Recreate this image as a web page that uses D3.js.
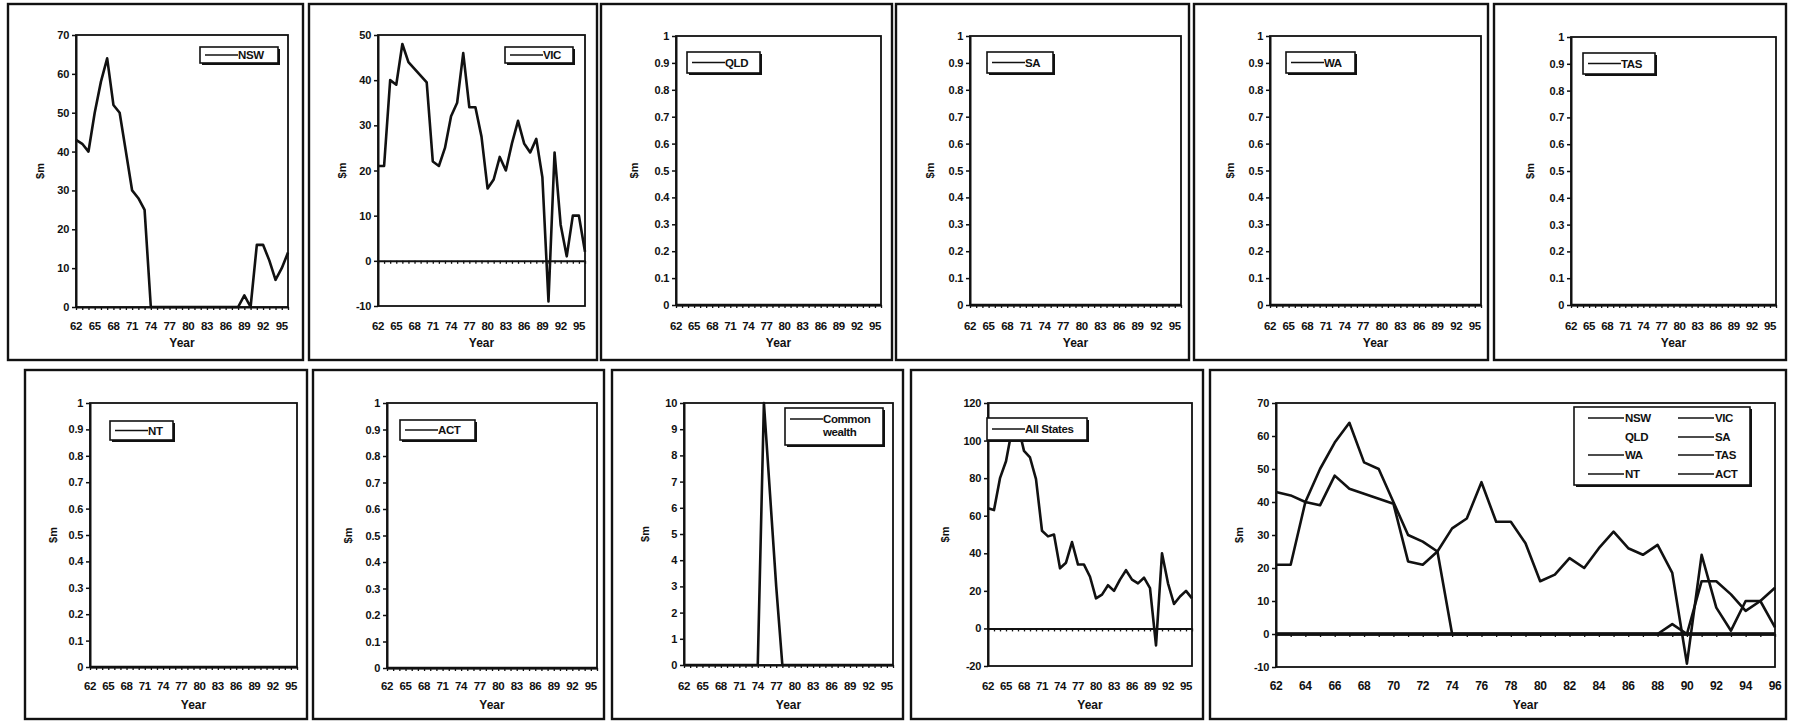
<!DOCTYPE html>
<html><head><meta charset="utf-8">
<script src="https://cdn.jsdelivr.net/npm/d3@7"></script>
<style>
body{margin:0;background:#fff;}
text{font-family:"Liberation Sans",Arial,sans-serif;font-weight:bold;fill:#111;}
</style></head><body>
<svg id="c" width="1807" height="722"></svg>
<script>
// ---------------- DATA ----------------
const years = ["62","63","64","65","66","67","68","69","70","71","72","73","74","75","76","77","78","79","80","81","82","83","84","85","86","87","88","89","90","91","92","93","94","95","96"];
const smallXLabels = ["62","65","68","71","74","77","80","83","86","89","92","95"];
const wideXLabels = ["62","64","66","68","70","72","74","76","78","80","82","84","86","88","90","92","94","96"];

const nsw = [43,42,40,50,58,64,52,50,40,30,28,25,0,0,0,0,0,0,0,0,0,0,0,0,0,0,0,3,0,16,16,12,7,10,14];
const vic = [21,21,40,39,48,44,42.5,41,39.5,22,21,25,32,35,46,34,34,27.5,16,18,23,20,26,31,26,24,27,18.5,-9,24,8,1,10,10,2];
const qld = [0,0,0,0,0,0,0,0,0,0,0,0,0,0,0,0,0,0,0,0,0,0,0,0,0,0,0,0,0,0,0,0,0,0,0];
const sa  = [0,0,0,0,0,0,0,0,0,0,0,0,0,0,0,0,0,0,0,0,0,0,0,0,0,0,0,0,0,0,0,0,0,0,0];
const wa  = [0,0,0,0,0,0,0,0,0,0,0,0,0,0,0,0,0,0,0,0,0,0,0,0,0,0,0,0,0,0,0,0,0,0,0];
const tas = [0,0,0,0,0,0,0,0,0,0,0,0,0,0,0,0,0,0,0,0,0,0,0,0,0,0,0,0,0,0,0,0,0,0,0];
const nt  = [0,0,0,0,0,0,0,0,0,0,0,0,0,0,0,0,0,0,0,0,0,0,0,0,0,0,0,0,0,0,0,0,0,0,0];
const act = [0,0,0,0,0,0,0,0,0,0,0,0,0,0,0,0,0,0,0,0,0,0,0,0,0,0,0,0,0,0,0,0,0,0,0];
const commonwealth = [0,0,0,0,0,0,0,0,0,0,0,0,0,10,6.5,3,0,0,0,0,0,0,0,0,0,0,0,0,0,0,0,0,0,0,0];
const allStates = [64,63,80,89,106,108,94.5,91,79.5,52,49,50,32,35,46,34,34,27.5,16,18,23,20,26,31,26,24,27,21.5,-9,40,24,13,17,20,16];

const stateNames = ["NSW","VIC","QLD","SA","WA","TAS","NT","ACT"];

// ---------------- LAYOUT ----------------
const topRow = {tickY:330, titleY:347};
const botRow = {tickY:690, titleY:709};
const panels = [
 {series:[nsw], names:["NSW"], box:[8,4,303,360], plot:[76,35,288,307], y:[0,70,10], row:topRow, yt:36, leg:[200,47,78,16]},
 {series:[vic], names:["VIC"], box:[309,4,597,360], plot:[378,35,585,306], y:[-10,50,10], row:topRow, yt:36, leg:[505,47,68,16]},
 {series:[qld], names:["QLD"], box:[601,4,892,360], plot:[676,36,881,305], y:[0,1,0.1], row:topRow, yt:42, leg:[687,52,73,21]},
 {series:[sa], names:["SA"], box:[896,4,1189,360], plot:[970,36,1181,305], y:[0,1,0.1], row:topRow, yt:40, leg:[987,52,66,21]},
 {series:[wa], names:["WA"], box:[1194,4,1488,360], plot:[1270,36,1481,305], y:[0,1,0.1], row:topRow, yt:40, leg:[1286,52,69,21]},
 {series:[tas], names:["TAS"], box:[1494,4,1786,360], plot:[1571,37,1776,305], y:[0,1,0.1], row:topRow, yt:41, leg:[1583,53,72,21]},
 {series:[nt], names:["NT"], box:[25,370,307,719], plot:[90,403,297,667], y:[0,1,0.1], row:botRow, yt:37, leg:[110,421,63,19]},
 {series:[act], names:["ACT"], box:[313,370,604,719], plot:[387,403,597,668], y:[0,1,0.1], row:botRow, yt:39, leg:[400,420,75,20]},
 {series:[commonwealth], names:["Common|wealth"], box:[612,370,903,719], plot:[684,403,893,665], y:[0,10,1], row:botRow, yt:39, leg:[785,408,98,37]},
 {series:[allStates], names:["All States"], box:[911,370,1203,719], plot:[988,403,1192,666], y:[-20,120,20], row:botRow, yt:43, leg:[987,418,100,22]},
 {series:[nsw,vic,qld,sa,wa,tas,nt,act], names:stateNames, box:[1210,370,1786,719], plot:[1276,403,1775,667], y:[-10,70,10], row:botRow, yt:37, wide:true, leg:[1574,407,176,78]}
];

const svg = d3.select("#c");
const fmt = d => String(+(+d).toFixed(1));

panels.forEach(p => {
  const [bx0,by0,bx1,by1] = p.box;
  svg.append("rect").attr("x",bx0).attr("y",by0).attr("width",bx1-bx0).attr("height",by1-by0)
     .attr("fill","none").attr("stroke","#111").attr("stroke-width",2.4);

  const [x0,y0,x1,y1] = p.plot;
  const x = d3.scalePoint().domain(years).range([x0,x1]);
  const [ymin,ymax,ystep] = p.y;
  const y = d3.scaleLinear().domain([ymin,ymax]).range([y1,y0]);
  const g = svg.append("g");

  // plot box
  g.append("rect").attr("x",x0).attr("y",y0).attr("width",x1-x0).attr("height",y1-y0)
    .attr("fill","none").attr("stroke","#111").attr("stroke-width",1.8);

  // y axis
  const yticks = d3.range(0, Math.round((ymax-ymin)/ystep)+1).map(i => ymin + i*ystep);
  const ya = g.append("g").attr("transform",`translate(${x0},0)`)
    .call(d3.axisLeft(y).tickValues(yticks).tickSize(4).tickSizeOuter(0).tickPadding(3).tickFormat(fmt));
  ya.select(".domain").attr("stroke","#111").attr("stroke-width",2);
  ya.selectAll(".tick line").attr("stroke","#111").attr("stroke-width",1.5);
  ya.selectAll(".tick text").style("font-size","11px").style("letter-spacing","-0.3px").style("font-family","'Liberation Sans',Arial,sans-serif").style("font-weight","bold").attr("fill","#111");

  // x axis at zero with per-year ticks
  const xa = g.append("g").attr("transform",`translate(0,${y(0)})`)
    .call(d3.axisBottom(x).tickSize(3).tickSizeOuter(0).tickFormat(""));
  xa.select(".domain").attr("stroke","#111").attr("stroke-width",2);
  xa.selectAll(".tick line").attr("stroke","#111").attr("stroke-width",1.3);

  // x labels at bottom
  const labs = p.wide ? wideXLabels : smallXLabels;
  g.selectAll(".xl").data(labs).enter().append("text")
    .attr("x", d => x(d)).attr("y", p.row.tickY).attr("text-anchor","middle")
    .style("font-size", p.wide ? "12px" : "11.5px").style("letter-spacing","-0.4px").text(d => d);

  // titles
  g.append("text").attr("x",(x0+x1)/2).attr("y",p.row.titleY).attr("text-anchor","middle")
    .style("font-size","12px").text("Year");
  g.append("text").attr("transform",`translate(${x0-p.yt+4},${(y0+y1)/2}) rotate(-90)`)
    .attr("text-anchor","middle").style("font-size","11px").text("$m");

  // lines
  const line = d3.line().x((d,i) => x(years[i])).y(d => y(d));
  p.series.forEach((s,si) => {
    g.append("path").datum(s).attr("d",line).attr("fill","none")
      .attr("stroke","#111").attr("stroke-width",2.6).attr("stroke-linejoin","round");
  });

  // legend
  const [lx,ly,lw,lh] = p.leg;
  g.append("rect").attr("x",lx+2).attr("y",ly+2).attr("width",lw).attr("height",lh).attr("fill","#111");
  g.append("rect").attr("x",lx).attr("y",ly).attr("width",lw).attr("height",lh)
    .attr("fill","#fff").attr("stroke","#111").attr("stroke-width",1.6);
  if (!p.wide) {
    const name = p.names[0];
    const parts = name.split("|");
    const cy = parts.length > 1 ? ly + 11 : ly + lh/2;
    g.append("line").attr("x1",lx+5).attr("x2",lx+38).attr("y1",cy).attr("y2",cy)
      .attr("stroke","#111").attr("stroke-width",1.7);
    parts.forEach((t,k) => {
      g.append("text").attr("x",lx+38).attr("y",cy+4+k*13).style("font-size","11.5px")
        .style("letter-spacing","-0.4px").text(t);
    });
  } else {
    const colX = [lx+14, lx+104];
    const rowY = [ly+11, ly+30, ly+48, ly+67];
    p.names.forEach((n,i) => {
      const cx = colX[i%2], cy = rowY[Math.floor(i/2)];
      if (n !== "QLD") {
        g.append("line").attr("x1",cx).attr("x2",cx+36).attr("y1",cy).attr("y2",cy)
          .attr("stroke","#111").attr("stroke-width",1.7);
      }
      g.append("text").attr("x",cx+37).attr("y",cy+4).style("font-size","11.5px")
        .style("letter-spacing","-0.4px").text(n);
    });
  }
});
</script>
</body></html>
